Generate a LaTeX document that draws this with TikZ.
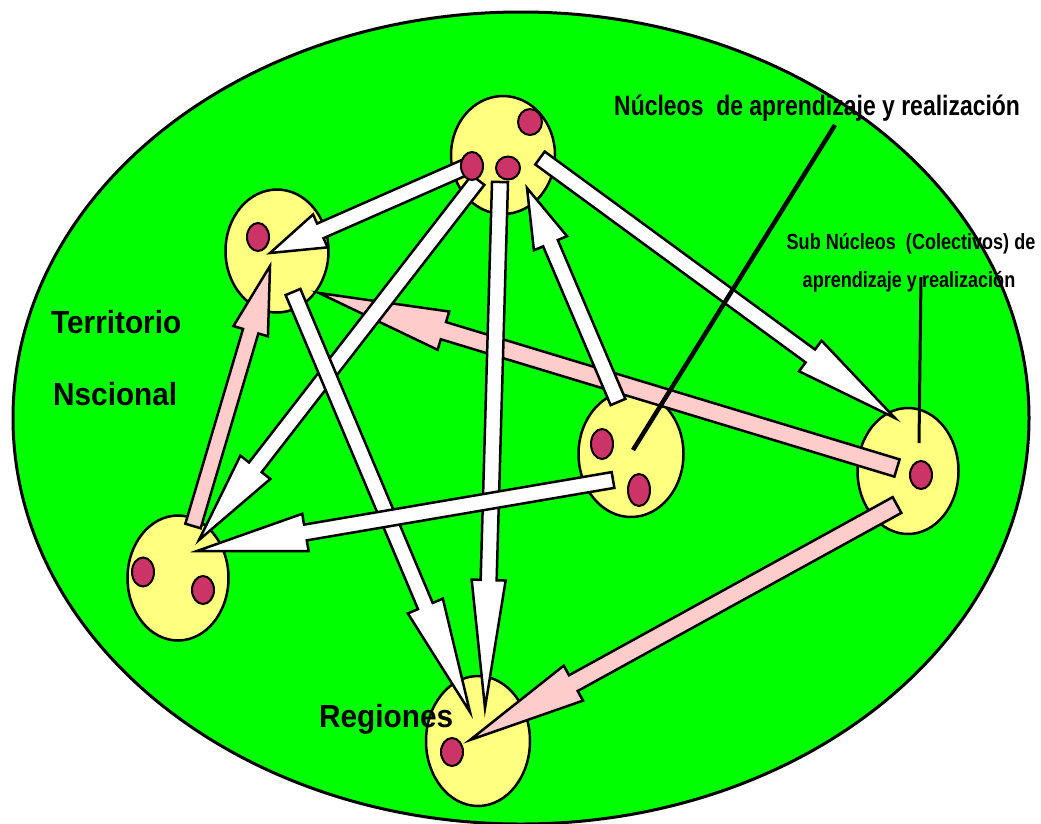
\documentclass[tikz,border=0pt]{standalone}
\usepackage{fontspec}
\setmainfont{Liberation Sans}
\newfontfamily\narrowf[FakeStretch=0.82]{Liberation Sans}
\newfontfamily\midf[FakeStretch=0.93]{Liberation Sans}
\usetikzlibrary{shapes.geometric,calc}
\definecolor{grn}{RGB}{0,255,0}
\definecolor{yel}{RGB}{255,255,128}
\definecolor{dotc}{RGB}{204,51,102}
\definecolor{pnk}{RGB}{255,204,204}
% block arrow: #1 fill, #2 tail coord, #3 tip coord, #4 head length, #5 shaft half width, #6 head half width
\newcommand\blk[6]{%
  \coordinate (bb) at ($(#3)!#4!(#2)$);
  \filldraw[arr, fill=#1] ($(#2)!#5!90:(#3)$) -- ($(bb)!#5!90:(#3)$) -- ($(bb)!#6!90:(#3)$) -- (#3)
    -- ($(bb)!#6!-90:(#3)$) -- ($(bb)!#5!-90:(#3)$) -- ($(#2)!#5!-90:(#3)$) -- cycle;
}
\begin{document}
\begin{tikzpicture}[x=1pt,y=-1pt,
  region/.style={ellipse, draw, line width=3pt, fill=grn, inner sep=0},
  nuc/.style={ellipse, draw, line width=2.5pt, fill=yel, inner sep=0},
  dot/.style={ellipse, draw, line width=2pt, fill=dotc, minimum width=22pt, minimum height=28pt, inner sep=0},
  arr/.style={draw, line width=2.5pt, line join=miter},
  lbl/.style={inner sep=0, anchor=base west},
  pointer/.style={line width=4.5pt}
]
\useasboundingbox (0,0) rectangle (1041,823);
\fill[white] (0,0) rectangle (1041,823);

% territory
\node[region, minimum width=1016pt, minimum height=812pt] (terr) at (521,418) {};

% nuclei
\node[nuc, minimum width=104pt, minimum height=118pt] (n1) at (503,155) {};
\node[nuc, minimum width=103pt, minimum height=123pt] (n2) at (277,251) {};
\node[nuc, minimum width=105pt, minimum height=126pt] (n3) at (631,454) {};
\node[nuc, minimum width=101pt, minimum height=126pt] (n4) at (908,471) {};
\node[nuc, minimum width=101pt, minimum height=125pt] (n5) at (178,578) {};
\node[nuc, minimum width=104pt, minimum height=130pt] (n6) at (478,741) {};

% arrow end points
\coordinate (aT) at (468,166); \coordinate (aH) at (270,253);
\coordinate (bT) at (478,180); \coordinate (bH) at (199,540);
\coordinate (cT) at (500,182); \coordinate (cH) at (485,708);
\coordinate (dT) at (540,158); \coordinate (dH) at (895,418);
\coordinate (eT) at (618,402); \coordinate (eH) at (527,188);
\coordinate (fT) at (613,480); \coordinate (fH) at (197,551);
\coordinate (gT) at (293,292); \coordinate (gH) at (470,712);
\coordinate (hT) at (897,468); \coordinate (hH) at (319,293);
\coordinate (iT) at (897,505); \coordinate (iH) at (470,740);
\coordinate (jT) at (193,526); \coordinate (jH) at (270,266);

% pink arrows
\blk{pnk}{hT}{hH}{130pt}{9pt}{20pt}
\blk{pnk}{iT}{iH}{118pt}{9pt}{20pt}
\blk{pnk}{jT}{jH}{68pt}{8pt}{18pt}

% white arrows
\blk{white}{bT}{bH}{92pt}{8pt}{19pt}
\blk{white}{gT}{gH}{115pt}{8pt}{19pt}
\blk{white}{cT}{cH}{128pt}{8pt}{17pt}
\blk{white}{dT}{dH}{105pt}{8pt}{19pt}
\blk{white}{aT}{aH}{55pt}{8pt}{18pt}
\blk{white}{eT}{eH}{60pt}{8pt}{18pt}
\blk{white}{fT}{fH}{110pt}{8pt}{19pt}

% dots
\node[dot, minimum width=24pt, minimum height=26pt] (d1a) at (530,122) {};
\node[dot] (d1b) at (472,166) {};
\node[dot, minimum width=24pt, minimum height=23pt] (d1c) at (508,168) {};
\node[dot] (d2) at (258,237) {};
\node[dot, minimum height=30pt] (d3a) at (602,444) {};
\node[dot, minimum height=32pt] (d3b) at (639,490) {};
\node[dot] (d4) at (921,475) {};
\node[dot, minimum height=29pt] (d5a) at (143,572) {};
\node[dot] (d5b) at (203,590) {};
\node[dot] (d6) at (452,752) {};

% pointer lines
\coordinate (pA) at (835,125); \coordinate (pA2) at (633,450);
\coordinate (pB) at (921,277); \coordinate (pB2) at (919,443);
\draw[pointer] (pA) -- (pA2);
\draw[line width=3pt] (pB) -- (pB2);

% labels
\node[lbl, font=\narrowf\bfseries\fontsize{28}{30}\selectfont] (tN) at (614,115) {Núcleos\ \ de aprendizaje y realización};
\node[inner sep=0, anchor=base, font=\narrowf\bfseries\fontsize{22}{24}\selectfont] (tS1) at (911,249) {Sub Núcleos\ \ (Colectivos) de};
\node[inner sep=0, anchor=base, font=\narrowf\bfseries\fontsize{22}{24}\selectfont] (tS2) at (909,287) {aprendizaje y realización};
\node[lbl, font=\midf\bfseries\fontsize{32}{34}\selectfont] (tT) at (51,333) {Territorio};
\node[lbl, font=\midf\bfseries\fontsize{32}{34}\selectfont] (tNs) at (53,405) {Nscional};
\node[lbl, font=\midf\bfseries\fontsize{32}{34}\selectfont] (tR) at (319,727) {Regiones};
\end{tikzpicture}
\end{document}
